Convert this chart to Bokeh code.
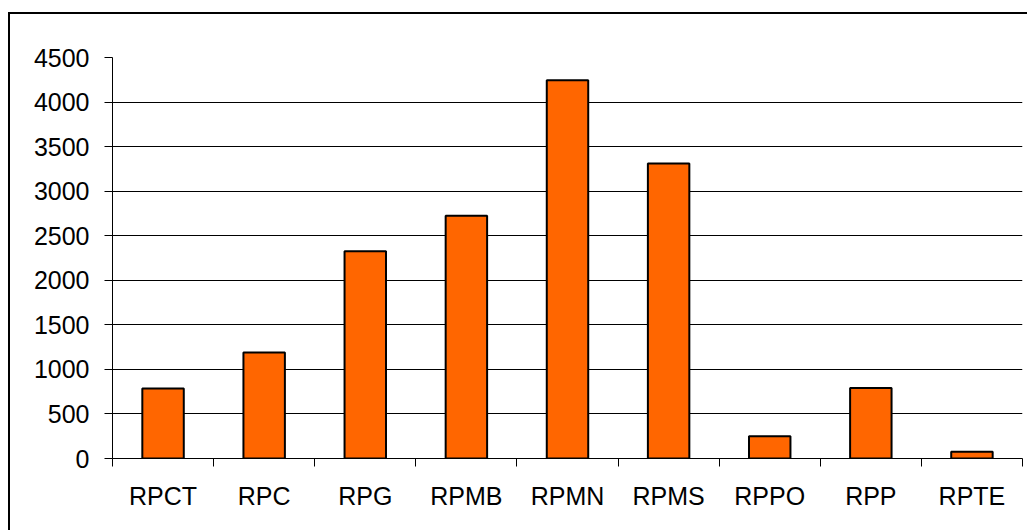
from bokeh.plotting import figure
from bokeh.models import Range1d, FixedTicker, InlineStyleSheet
from bokeh.embed import file_html
from bokeh.resources import INLINE

categories = ["RPCT", "RPC", "RPG", "RPMB", "RPMN", "RPMS", "RPPO", "RPP", "RPTE"]
values = [785, 1190, 2325, 2725, 4245, 3310, 250, 790, 75]
y_ticks = [0, 500, 1000, 1500, 2000, 2500, 3000, 3500, 4000, 4500]

n = len(categories)
centers = [i + 0.5 for i in range(n)]
bounds = [i for i in range(n + 1)]

p = figure(width=1019, height=518, output_backend="svg", toolbar_location=None,
           x_range=Range1d(0, n), y_range=Range1d(0, 4500),
           min_border_left=102, min_border_right=7, min_border_top=43, min_border_bottom=74)
p.stylesheets.append(InlineStyleSheet(css=":host { border-top: 2px solid black; border-left: 2px solid black; margin-top: 12px; margin-left: 8px; }"))
p.outline_line_color = None
p.background_fill_color = "white"
p.border_fill_color = "white"

p.vbar(x=centers, top=values, width=0.41, bottom=0, fill_color="#FF6600",
       line_color="black", line_width=2)

# x axis
xa = p.xaxis[0]
xa.ticker = FixedTicker(ticks=centers, minor_ticks=bounds)
xa.major_label_overrides = {c: cat for c, cat in zip(centers, categories)}
xa.major_tick_out = 0
xa.major_tick_in = 0
xa.minor_tick_out = 8
xa.minor_tick_in = 0
xa.minor_tick_line_color = "black"
xa.axis_line_color = "black"
xa.major_label_standoff = 15
xa.major_label_text_font = "Liberation Sans"
xa.major_label_text_font_size = "25px"
xa.major_label_text_color = "black"

# y axis
ya = p.yaxis[0]
ya.ticker = FixedTicker(ticks=y_ticks, minor_ticks=[])
ya.major_tick_out = 8
ya.major_tick_in = 0
ya.major_tick_line_color = "black"
ya.axis_line_color = "black"
ya.major_label_standoff = 15
ya.major_label_text_font = "Liberation Sans"
ya.major_label_text_font_size = "25px"
ya.major_label_text_color = "black"

p.xgrid.visible = False
p.ygrid.ticker = FixedTicker(ticks=y_ticks[1:-1])
p.ygrid.grid_line_color = "black"
p.ygrid.grid_line_width = 1

open("out.html", "w").write(file_html(p, INLINE))
